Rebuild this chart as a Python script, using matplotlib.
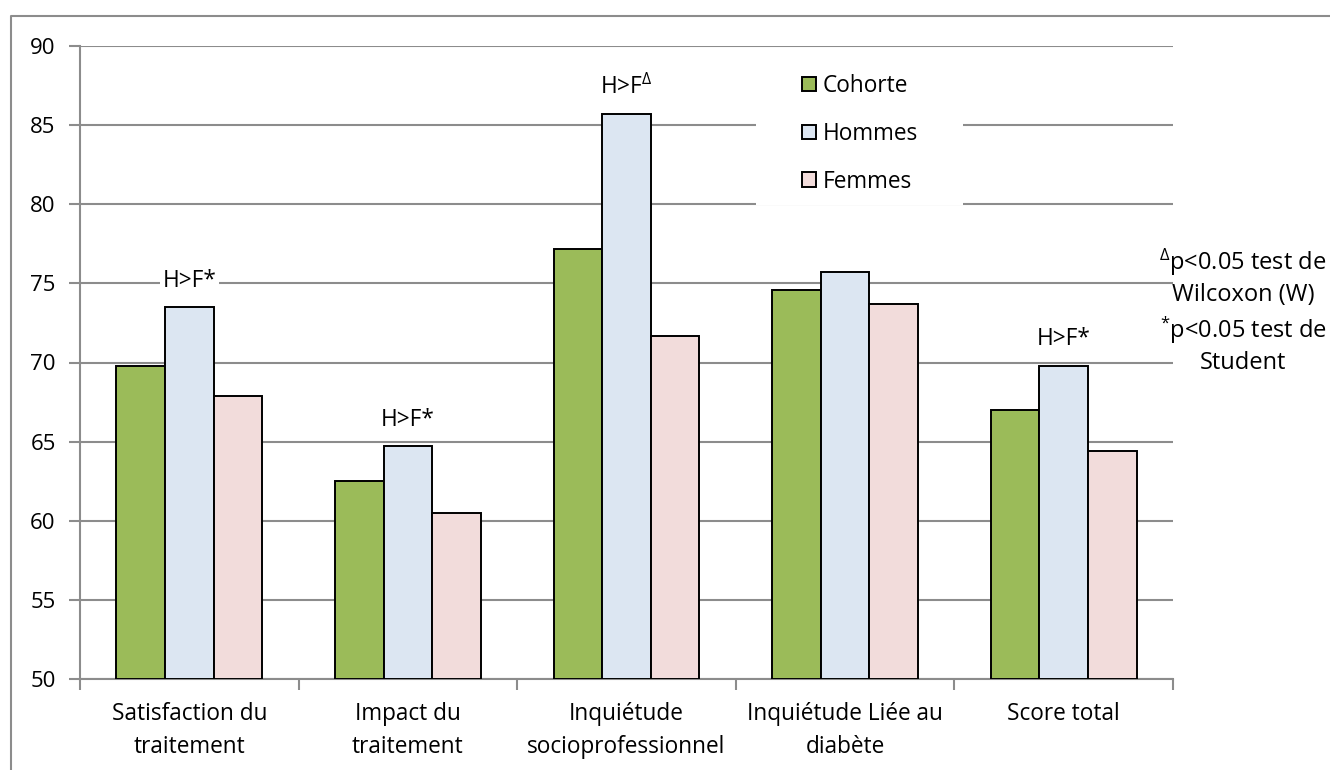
import matplotlib.pyplot as plt
import numpy as np
from matplotlib.lines import Line2D
from matplotlib.patches import Rectangle

plt.rcParams['font.family'] = ['Open Sans', 'DejaVu Sans']
plt.rcParams['mathtext.fontset'] = 'custom'
plt.rcParams['mathtext.rm'] = 'Open Sans'
plt.rcParams['mathtext.it'] = 'Open Sans'

# Scores par dimension
categories = ["Satisfaction du\ntraitement", "Impact du\ntraitement", "Inquiétude\nsocioprofessionnel",
              "Inquiétude Liée au\ndiabète", "Score total"]
series = ["Cohorte", "Hommes", "Femmes"]
cohorte = [69.8, 62.5, 77.2, 74.6, 67.0]
hommes = [73.5, 64.7, 85.7, 75.7, 69.8]
femmes = [67.9, 60.5, 71.7, 73.7, 64.4]
# significance marks above the "Hommes" bars
signif = [r"H>F*", r"H>F*", r"H>F$^{\Delta}$", None, r"H>F*"]
note = "$^{\\Delta}$p<0.05 test de\nWilcoxon (W)\n$^{*}$p<0.05 test de\nStudent"

colors = ["#9BBB59", "#DCE6F2", "#F2DCDB"]
grey = "#8c8c8c"
fs = 16.3

fig = plt.figure(figsize=(13.3, 7.7), dpi=100)
ax = fig.add_axes([80 / 1330, 1 - 679 / 770, 1093 / 1330, 633 / 770])

x = np.arange(len(categories))
w = 1 / 4.5
for i, (name, vals) in enumerate(zip(series, [cohorte, hommes, femmes])):
    ax.bar(x + (i - 1) * w, np.array(vals) - 50, bottom=50, width=w, color=colors[i],
           edgecolor="black", linewidth=1.4, label=name, zorder=3)

for xi, v, s in zip(x, hommes, signif):
    if s is None:
        continue
    ax.annotate(s, (xi, v), xytext=(0, 19), textcoords="offset points", ha="center", va="center",
                fontsize=fs, zorder=4,
                bbox=dict(boxstyle="square,pad=0.1", fc="white", ec="none"))

ax.set_ylim(50, 90)
ax.set_xlim(-0.5, len(categories) - 0.5)
ax.set_yticks(np.arange(50, 91, 5))
ax.yaxis.grid(True, color=grey, linewidth=1.5, zorder=0)
ax.set_axisbelow(True)
ax.set_xticks(x)
ax.set_xticklabels(categories, fontsize=fs, linespacing=1.5)
ax.set_xticks(np.arange(-0.5, len(categories), 1), minor=True)
ax.tick_params(axis="x", which="major", length=0, pad=16.5)
ax.tick_params(axis="x", which="minor", length=8, width=1.5, color=grey, direction="out")
ax.tick_params(axis="y", length=8, width=1.5, color=grey, pad=9.5, labelsize=16)

for side in ["top", "right"]:
    ax.spines[side].set_visible(False)
for side in ["left", "bottom"]:
    ax.spines[side].set_color(grey)
    ax.spines[side].set_linewidth(1.5)

# white panel behind the legend, hiding the grid lines
ax.add_patch(Rectangle((676 / 1093, 474 / 633), 207 / 1093, 150 / 633, transform=ax.transAxes,
                       facecolor="white", edgecolor="none", zorder=4))
leg = ax.legend(loc="upper left", bbox_to_anchor=(722 / 1093, 605 / 633), fontsize=fs, frameon=False,
                handlelength=0.6, handleheight=0.6, handletextpad=0.33, labelspacing=1.05,
                borderpad=0, borderaxespad=0)
leg.set_zorder(5)

fig.text(1243 / 1330, 1 - 311 / 770, note, ha="center", va="center", fontsize=17, linespacing=1.28)

# chart area border (left and top edges)
fig.add_artist(Line2D([11 / 1330, 11 / 1330, 1.0], [0.0, 1 - 16 / 770, 1 - 16 / 770],
                      color=grey, linewidth=1.5, transform=fig.transFigure))

fig.savefig("out.png", dpi=100, facecolor="white")
